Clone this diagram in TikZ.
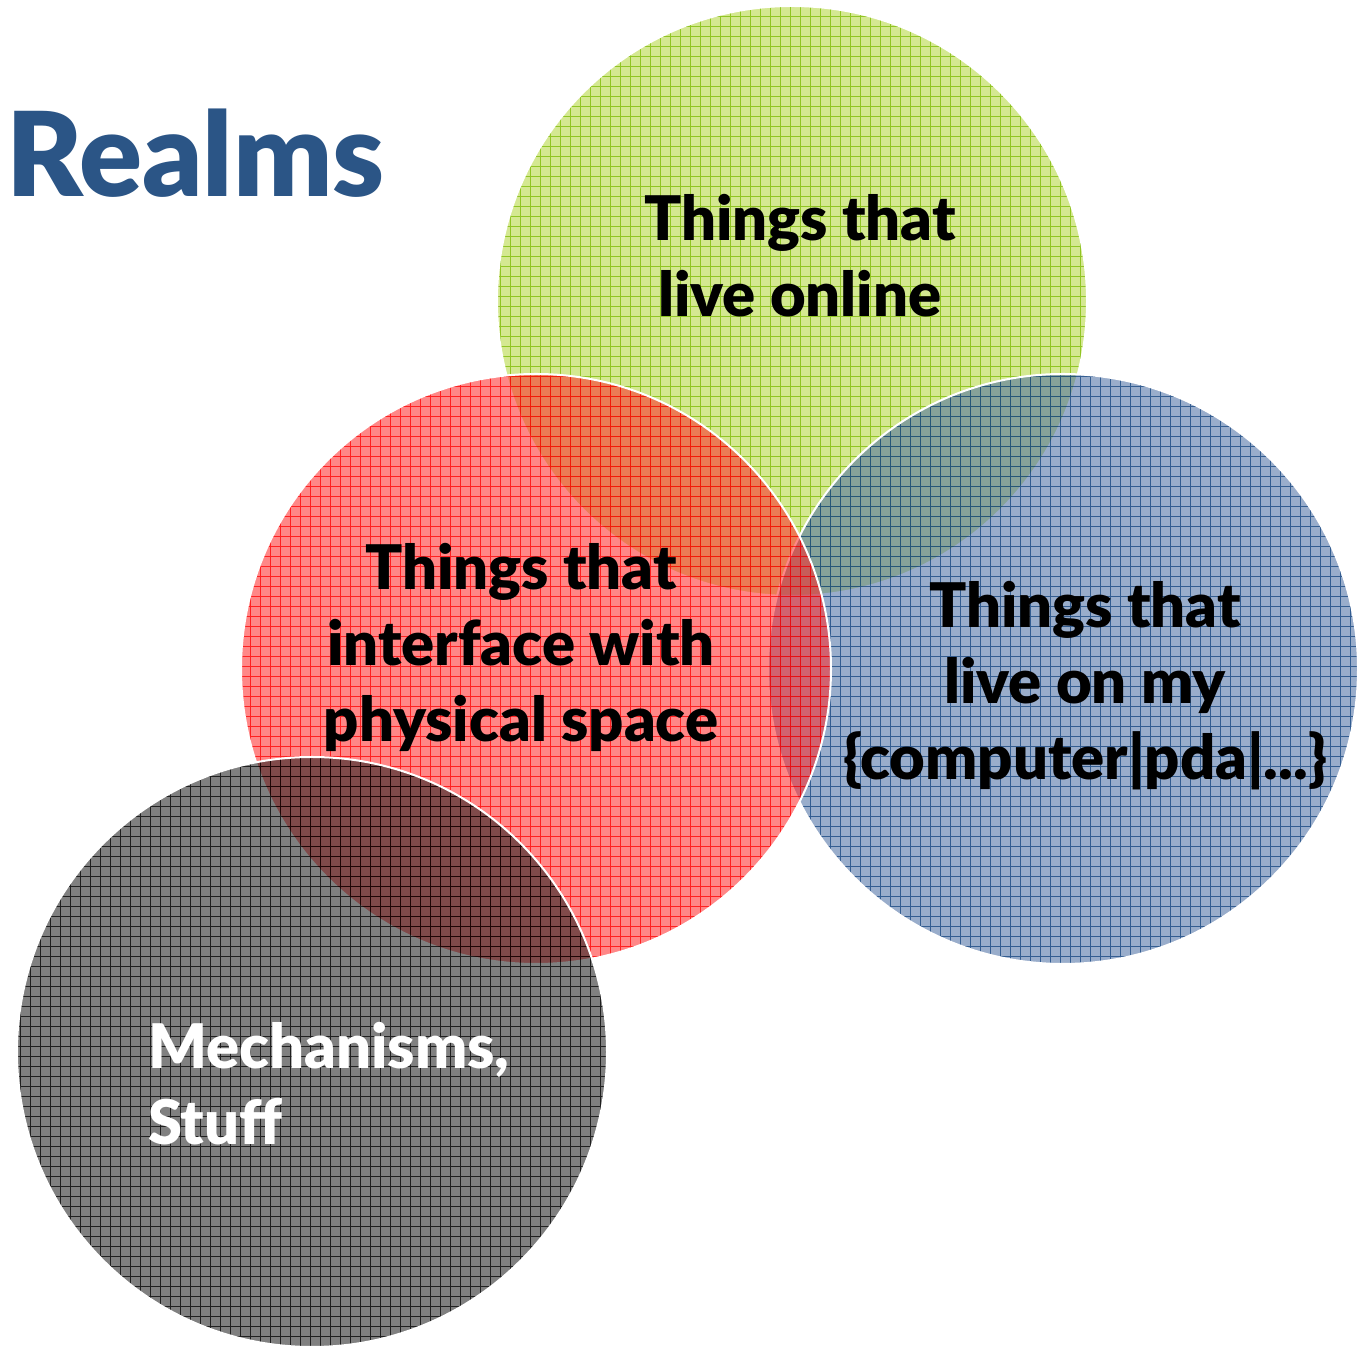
\documentclass[tikz,border=0pt]{standalone}
\usepackage{fontspec}
\setmainfont{Lato}[UprightFont={* Black}, BoldFont={* Black}]
\definecolor{gfill}{RGB}{177,213,55}
\definecolor{gline}{RGB}{123,186,0}
\definecolor{rfill}{RGB}{255,37,37}
\definecolor{rline}{RGB}{255,0,0}
\definecolor{bfill}{RGB}{70,105,160}
\definecolor{bline}{RGB}{17,67,126}
\definecolor{kfill}{RGB}{24,24,24}
\definecolor{kline}{RGB}{0,0,0}
\definecolor{titleblue}{RGB}{43,85,134}
\newcommand\vennset[3]{%
  \fill[#2, fill opacity=0.55] (#1) circle[radius=295pt];
  \begin{scope}
    \clip (#1) circle[radius=295pt];
    \draw[#3, line width=1pt, draw opacity=0.75, step=10pt, shift={(0.5,0.5)}] (-10,-10) grid (1370,1360);
  \end{scope}
  \draw[ring] (#1) circle[radius=295pt];
}
\tikzset{
  ring/.style={draw=white, line width=2pt},
  lbl/.style={font=\fontsize{61.5}{76}\selectfont, align=center, inner sep=0pt, anchor=base},
}
\begin{document}
\begin{tikzpicture}[x=1pt, y=1pt]
\useasboundingbox (0,0) rectangle (1358,1347);
\coordinate (cg) at (792,1046);
\coordinate (cr) at (536,678);
\coordinate (cb) at (1063,678);
\coordinate (ck) at (312,295);
\vennset{cg}{gfill}{gline}
\vennset{cb}{bfill}{bline}
\vennset{cr}{rfill}{rline}
\vennset{ck}{kfill}{kline}
\node[font=\fontsize{117}{120}\selectfont, text=titleblue, inner sep=0pt, anchor=base west] (title) at (6,1150) {Realms};
\node[lbl] (online) at (800,1030) {Things that\\live online};
\node[lbl] (physical) at (521,605) {Things that\\interface with\\physical space};
\node[lbl] (computer) at (1085,567) {Things that\\live on my\\\{computer|pda|...\}};
\node[lbl, align=left, anchor=base west, text=white] (mech) at (148,202) {Mechanisms,\\Stuff};
\end{tikzpicture}
\end{document}
